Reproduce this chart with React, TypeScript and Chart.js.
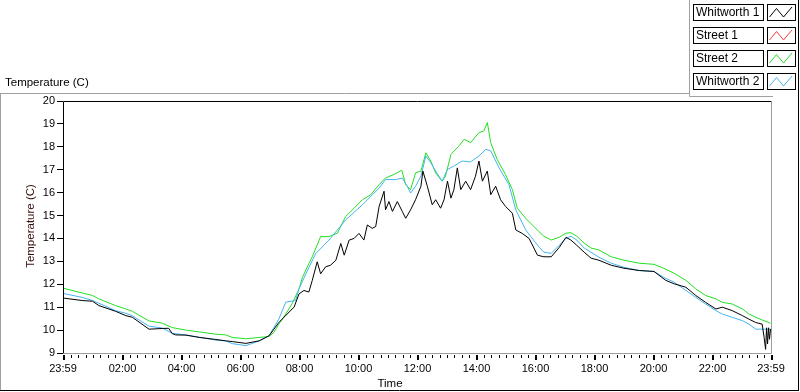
import React, { useEffect, useRef } from 'react';
import { Chart, registerables } from 'chart.js';

Chart.register(...registerables);

const chartTitle = 'Temperature (C)';
const xAxisTitle = 'Time';
const yAxisTitle = 'Temperature (C)';

const seriesNames = ['Whitworth 1', 'Street 1', 'Street 2', 'Whitworth 2'];
const seriesColors = ['#000000', '#ff3b3b', '#22e022', '#45b4f0'];

// minutes elapsed since 23:59 of the previous day
const majorTickMinutes = [0, 121, 241, 361, 481, 601, 721, 841, 961, 1081, 1201, 1321, 1440];
const majorTickLabels = ['23:59', '02:00', '04:00', '06:00', '08:00', '10:00', '12:00', '14:00', '16:00', '18:00', '20:00', '22:00', '23:59'];
const yTickValues = [9, 10, 11, 12, 13, 14, 15, 16, 17, 18, 19, 20];

// Whitworth 1 (black)
const whitworth1Minutes = [
  0, 39, 60, 73, 107, 128, 141, 175, 202, 215, 222, 229, 250, 277, 311, 331, 344, 372, 399, 419,
  439, 466, 470, 480, 490, 500, 507, 517, 524, 534, 544, 555, 565, 572, 582, 592, 602, 612, 619, 629,
  636, 643, 653, 656, 663, 670, 680, 690, 697, 707, 717, 728, 732, 741, 751, 758, 768, 775, 782, 789,
  795, 802, 809, 819, 829, 839, 846, 853, 863, 870, 880, 890, 900, 914, 921, 934, 948, 965, 978, 993,
  1009, 1023, 1033, 1045, 1060, 1074, 1090, 1115, 1141, 1172, 1202, 1226, 1243, 1267, 1287, 1307, 1328, 1341, 1361, 1382,
  1395, 1409, 1422, 1426, 1429, 1431, 1433, 1435, 1437, 1439,
];
const whitworth1Temps = [
  11.4, 11.29, 11.26, 11.07, 10.82, 10.63, 10.56, 10.04, 10.07, 10.08, 9.85, 9.79, 9.78, 9.68, 9.59, 9.53, 9.5, 9.42, 9.53, 9.75,
  10.33, 10.92, 11.0, 11.58, 11.73, 11.66, 12.17, 12.98, 12.46, 12.76, 12.83, 13.05, 13.78, 13.27, 13.93, 14.0, 14.22, 13.93, 14.59, 14.44,
  14.52, 15.4, 16.06, 15.25, 15.61, 15.18, 15.61, 15.18, 14.88, 15.25, 15.69, 16.28, 16.94, 16.28, 15.47, 15.69, 15.32, 15.69, 16.5, 15.76,
  16.13, 17.08, 16.13, 16.5, 16.13, 16.72, 17.38, 16.5, 16.94, 15.91, 16.28, 15.69, 15.4, 15.1, 14.37, 14.22, 14.0, 13.27, 13.2, 13.2,
  13.6, 14.05, 13.93, 13.7, 13.4, 13.14, 13.05, 12.83, 12.7, 12.6, 12.56, 12.17, 12.02, 11.87, 11.51, 11.21, 10.92, 11.0, 10.85, 10.63,
  10.48, 10.33, 10.26, 9.68, 9.16, 10.1, 9.4, 10.1, 9.6, 10.05,
];

// Street 1 (red) – no samples visible in the reference
const street1Minutes: number[] = [];
const street1Temps: number[] = [];

// Street 2 (green)
const street2Minutes = [
  0, 39, 60, 73, 107, 128, 141, 175, 202, 222, 250, 277, 311, 331, 344, 372, 399, 419, 429, 439,
  453, 466, 480, 487, 500, 507, 524, 541, 558, 575, 592, 609, 626, 643, 656, 673, 689, 697, 707, 717,
  728, 738, 748, 758, 771, 778, 789, 805, 816, 829, 846, 856, 863, 870, 883, 900, 914, 924, 941, 968,
  978, 993, 1009, 1023, 1033, 1045, 1060, 1074, 1090, 1115, 1141, 1172, 1202, 1222, 1243, 1267, 1287, 1307, 1328, 1341,
  1361, 1382, 1395, 1409, 1422, 1439,
];
const street2Temps = [
  11.83, 11.62, 11.51, 11.36, 11.07, 10.92, 10.82, 10.4, 10.3, 10.11, 10.0, 9.92, 9.82, 9.79, 9.68, 9.62, 9.68, 9.72, 9.9, 10.26,
  10.7, 11.15, 11.8, 12.3, 12.9, 13.2, 14.08, 14.08, 14.23, 14.96, 15.32, 15.69, 15.91, 16.35, 16.64, 16.79, 16.98, 16.35, 16.13, 16.86,
  16.94, 17.74, 17.38, 16.86, 16.5, 16.72, 17.67, 18.03, 18.33, 18.18, 18.62, 18.69, 19.06, 18.18, 17.45, 16.79, 16.13, 15.32, 14.88, 14.3,
  14.1, 13.93, 14.05, 14.23, 14.25, 14.1, 13.8, 13.58, 13.5, 13.2, 13.05, 12.92, 12.87, 12.7, 12.48, 12.17, 11.8, 11.51, 11.36, 11.21,
  11.14, 10.92, 10.7, 10.56, 10.44, 10.3,
];

// Whitworth 2 (light blue)
const whitworth2Minutes = [
  0, 39, 60, 73, 107, 128, 141, 175, 202, 222, 250, 277, 311, 331, 344, 372, 399, 419, 439, 453,
  473, 480, 494, 514, 541, 575, 609, 643, 656, 677, 690, 700, 707, 717, 728, 738, 748, 758, 771, 782,
  795, 812, 829, 846, 860, 870, 887, 907, 921, 941, 968, 978, 993, 1009, 1023, 1033, 1045, 1060, 1074, 1090,
  1115, 1141, 1172, 1202, 1222, 1243, 1267, 1287, 1307, 1328, 1341, 1361, 1382, 1395, 1409, 1422, 1439,
];
const whitworth2Temps = [
  11.6, 11.43, 11.29, 11.17, 10.85, 10.73, 10.63, 10.17, 10.09, 9.86, 9.79, 9.69, 9.56, 9.53, 9.41, 9.32, 9.53, 9.75, 10.48, 11.22,
  11.29, 11.8, 12.46, 13.34, 13.93, 14.81, 15.47, 16.2, 16.57, 16.57, 16.64, 16.28, 15.98, 16.28, 16.72, 17.6, 17.3, 16.94, 16.5, 17.01,
  17.16, 17.38, 17.34, 17.6, 17.89, 17.82, 17.08, 16.35, 15.25, 14.37, 13.63, 13.4, 13.35, 13.7, 14.0, 14.1, 13.93, 13.58, 13.4, 13.18,
  12.92, 12.74, 12.6, 12.56, 12.3, 12.09, 11.73, 11.43, 11.14, 10.85, 10.7, 10.56, 10.41, 10.26, 10.04, 10.04, 10.04,
];

const seriesMinutes = [whitworth1Minutes, street1Minutes, street2Minutes, whitworth2Minutes];
const seriesTemps = [whitworth1Temps, street1Temps, street2Temps, whitworth2Temps];
const seriesOrder = [0, 3, 2, 1];

const FONT = '"Liberation Sans", Arial, sans-serif';

const decorPlugin = {
  id: 'decor',
  afterDraw(chart: any) {
    const { ctx, chartArea: ca } = chart;
    const xs = chart.scales.x;
    ctx.save();
    ctx.lineWidth = 1;

    // plot frame
    ctx.strokeStyle = '#000';
    ctx.beginPath();
    ctx.moveTo(ca.left + 0.5, ca.bottom + 0.5);
    ctx.lineTo(ca.left + 0.5, ca.top + 0.5);
    ctx.lineTo(ca.right + 0.5, ca.top + 0.5);
    ctx.stroke();
    ctx.strokeStyle = '#9c9c9c';
    ctx.beginPath();
    ctx.moveTo(ca.right + 0.5, ca.top + 0.5);
    ctx.lineTo(ca.right + 0.5, ca.bottom + 0.5);
    ctx.lineTo(ca.left + 0.5, ca.bottom + 0.5);
    ctx.stroke();

    // x tick marks
    ctx.strokeStyle = '#000';
    for (let m = 16; m < 1440; m += 15) {
      const px = Math.round(xs.getPixelForValue(m)) + 0.5;
      ctx.beginPath();
      ctx.moveTo(px, ca.bottom + 2);
      ctx.lineTo(px, ca.bottom + 5);
      ctx.stroke();
    }
    ctx.lineWidth = 2;
    for (const m of majorTickMinutes) {
      const px = Math.round(xs.getPixelForValue(m)) + 1;
      ctx.beginPath();
      ctx.moveTo(px, ca.bottom + 2);
      ctx.lineTo(px, ca.bottom + 7);
      ctx.stroke();
    }
    ctx.lineWidth = 1;

    // outer panel
    ctx.strokeStyle = '#a0a0a0';
    ctx.beginPath();
    ctx.moveTo(0, 93.5);
    ctx.lineTo(689.5, 93.5);
    ctx.moveTo(0.5, 93.5);
    ctx.lineTo(0.5, 390);
    ctx.moveTo(689.5, 0);
    ctx.lineTo(689.5, 96.5);
    ctx.lineTo(773, 96.5);
    ctx.stroke();
    ctx.strokeStyle = '#000';
    ctx.beginPath();
    ctx.moveTo(0, 390.5);
    ctx.lineTo(799, 390.5);
    ctx.moveTo(798.5, 0);
    ctx.lineTo(798.5, 391);
    ctx.stroke();

    // titles
    ctx.fillStyle = '#000';
    ctx.font = `11.5px ${FONT}`;
    ctx.textAlign = 'left';
    ctx.textBaseline = 'alphabetic';
    ctx.fillText(chartTitle, 5, 86);

    ctx.textAlign = 'center';
    ctx.textBaseline = 'middle';
    ctx.fillText(xAxisTitle, 390, 384);

    ctx.save();
    ctx.translate(31, 226);
    ctx.rotate(-Math.PI / 2);
    ctx.fillStyle = '#3a0e0e';
    ctx.fillText(yAxisTitle, 0, 0);
    ctx.restore();

    // legend
    ctx.font = `12px ${FONT}`;
    ctx.textAlign = 'left';
    ctx.textBaseline = 'middle';
    seriesNames.forEach((name, i) => {
      const top = 4 + i * 23;
      ctx.fillStyle = '#fff';
      ctx.fillRect(693, top, 70, 17);
      ctx.fillRect(767, top, 28, 17);
      ctx.strokeStyle = '#000';
      ctx.lineWidth = 1;
      ctx.strokeRect(693.5, top + 0.5, 70, 16);
      ctx.strokeRect(767.5, top + 0.5, 28, 16);
      ctx.fillStyle = '#000';
      ctx.fillText(name, 696, top + 9);
      ctx.strokeStyle = seriesColors[i];
      ctx.beginPath();
      ctx.moveTo(769.5, top + 13);
      ctx.lineTo(776.5, top + 4.5);
      ctx.lineTo(783.5, top + 13);
      ctx.lineTo(792, top + 3);
      ctx.stroke();
    });

    ctx.restore();
  },
};

export default function App() {
  const canvasRef = useRef<HTMLCanvasElement | null>(null);

  useEffect(() => {
    if (!canvasRef.current) return;
    Chart.defaults.font.family = FONT;
    const datasets = seriesNames.map((name, i) => ({
      label: name,
      data: seriesMinutes[i].map((m, k) => ({ x: m, y: seriesTemps[i][k] })),
      borderColor: seriesColors[i],
      backgroundColor: seriesColors[i],
      borderWidth: 1,
      pointRadius: 0,
      tension: 0,
      fill: false,
      order: seriesOrder[i],
    }));

    const chart = new Chart(canvasRef.current, {
      type: 'line',
      data: { datasets },
      options: {
        animation: false,
        responsive: false,
        maintainAspectRatio: false,
        layout: { padding: { left: 0, top: 101, right: 29, bottom: 0 } },
        plugins: { legend: { display: false }, tooltip: { enabled: false }, title: { display: false } },
        scales: {
          x: {
            type: 'linear',
            min: 0,
            max: 1440,
            afterBuildTicks: (s: any) => {
              s.ticks = majorTickMinutes.map((v) => ({ value: v }));
            },
            afterFit: (s: any) => {
              s.height = 39;
            },
            grid: { display: false, drawTicks: true, tickLength: 5 },
            border: { display: false },
            ticks: {
              autoSkip: false,
              maxRotation: 0,
              padding: 4,
              color: '#000',
              font: { size: 11 },
              callback: (_v: any, idx: number) => majorTickLabels[idx],
            },
          },
          y: {
            type: 'linear',
            min: 9,
            max: 20,
            afterBuildTicks: (s: any) => {
              s.ticks = yTickValues.map((v) => ({ value: v }));
            },
            afterFit: (s: any) => {
              s.width = 63;
            },
            grid: { display: true, drawOnChartArea: false, drawTicks: true, tickLength: 6, color: '#000' },
            border: { display: false },
            ticks: { padding: 2, color: '#000', font: { size: 11 } },
          },
        },
      },
      plugins: [decorPlugin],
    });
    return () => chart.destroy();
  }, []);

  return (
    <div style={{ position: 'fixed', left: 0, top: 0, width: 800, height: 392, background: '#fff' }}>
      <canvas ref={canvasRef} width={800} height={392} style={{ width: 800, height: 392, display: 'block' }} />
    </div>
  );
}
